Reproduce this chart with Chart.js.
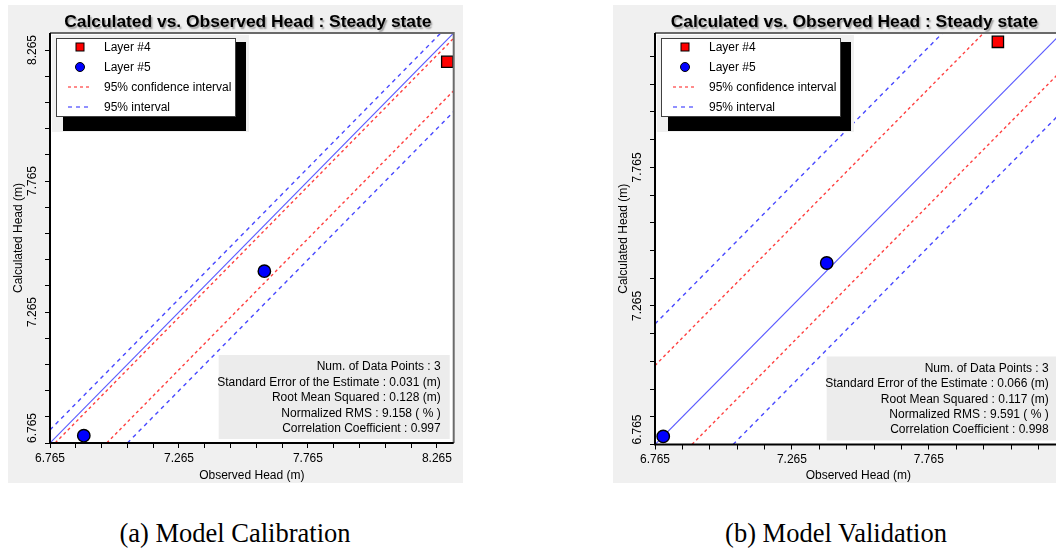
<!DOCTYPE html>
<html>
<head>
<meta charset="utf-8">
<title>Calculated vs. Observed Head</title>
<script src="https://cdn.jsdelivr.net/npm/chart.js@4.4.1/dist/chart.umd.min.js"></script>
<style>
  html, body { margin: 0; padding: 0; background: #fff; }
  body { position: relative; width: 1056px; height: 552px; overflow: hidden; }
  .panel { position: absolute; top: 5px; height: 478px; background: #f0f0f0; }
  #panelA { left: 8px; width: 455px; }
  #panelB { left: 613px; width: 458px; }
  .caption {
    position: absolute; top: 518px; width: 300px; text-align: center;
    font-family: "Liberation Serif", "Times New Roman", serif; font-size: 26.5px; color: #000;
  }
</style>
</head>
<body>
<div class="panel" id="panelA"><canvas id="chartA" width="455" height="478"></canvas></div>
<div class="panel" id="panelB"><canvas id="chartB" width="458" height="478"></canvas></div>
<div class="caption" style="left:85px;">(a) Model Calibration</div>
<div class="caption" style="left:686px;">(b) Model Validation</div>

<script>
// ── Axis data ──────────────────────────────────────────────────────
const AXIS_MIN = 6.765;
const CAL_AXIS_MAX = 8.33;
const VAL_AXIS_MAX = 8.25;
const MAJOR_TICKS = [6.765, 7.265, 7.765, 8.265];
const MINOR_STEP = 0.1;

// ── (a) Calibration ────────────────────────────────────────────────
const calLayer4 = [{ x: 8.305, y: 8.22 }];
const calLayer5 = [{ x: 7.596, y: 7.421 }, { x: 6.896, y: 6.793 }];
const calOneToOne = [{ x: 6.765, y: 6.765 }, { x: 8.33, y: 8.33 }];
const calConfUpper = [{ x: 6.785, y: 6.765 }, { x: 8.33, y: 8.31 }];
const calConfLower = [{ x: 6.985, y: 6.765 }, { x: 8.33, y: 8.11 }];
const calPredUpper = [{ x: 6.765, y: 6.815 }, { x: 8.28, y: 8.33 }];
const calPredLower = [{ x: 7.065, y: 6.765 }, { x: 8.33, y: 8.03 }];
const calStats = [
  'Num. of Data Points : 3',
  'Standard Error of the Estimate : 0.031 (m)',
  'Root Mean Squared : 0.128 (m)',
  'Normalized RMS : 9.158 ( % )',
  'Correlation Coefficient : 0.997'
];

// ── (b) Validation ─────────────────────────────────────────────────
const valLayer4 = [{ x: 8.017, y: 8.218 }];
const valLayer5 = [{ x: 7.392, y: 7.42 }, { x: 6.795, y: 6.794 }];
const valOneToOne = [{ x: 6.765, y: 6.765 }, { x: 8.25, y: 8.25 }];
const valConfUpper = [{ x: 6.765, y: 7.05 }, { x: 7.965, y: 8.25 }];
const valConfLower = [{ x: 6.9, y: 6.765 }, { x: 8.25, y: 8.115 }];
const valPredUpper = [{ x: 6.765, y: 7.2 }, { x: 7.815, y: 8.25 }];
const valPredLower = [{ x: 7.05, y: 6.765 }, { x: 8.25, y: 7.965 }];
const valStats = [
  'Num. of Data Points : 3',
  'Standard Error of the Estimate : 0.066 (m)',
  'Root Mean Squared : 0.117 (m)',
  'Normalized RMS : 9.591 ( % )',
  'Correlation Coefficient : 0.998'
];

const TITLE = 'Calculated vs. Observed Head : Steady state';
const FONT = '"Liberation Sans", Arial, sans-serif';
const RED = '#ff0000', BLUE = '#0000ff';
const RED_DASH = '#ff4040', BLUE_DASH = '#4848ff', LINE_1TO1 = '#5a5aff';

// ── Helpers ────────────────────────────────────────────────────────
function minorTicks(max) {
  const out = [];
  for (let i = 0; AXIS_MIN + i * MINOR_STEP <= max + 1e-9; i++) {
    out.push({ value: +(AXIS_MIN + i * MINOR_STEP).toFixed(3) });
  }
  return out;
}
function isMajor(v) { return MAJOR_TICKS.includes(+(+v).toFixed(3)); }

function lineSet(label, data, color, dash, legend) {
  return {
    label, data, showLine: true, borderColor: color, borderWidth: dash ? 1.4 : 1.1,
    borderDash: dash || [], pointRadius: 0, fill: false, inLegend: legend, kind: 'line'
  };
}

// Chart panel decorations: white plot area, title, frame, rotated y labels, legend, stats box
const panelDecor = {
  id: 'panelDecor',
  beforeDraw(chart) {
    const ctx = chart.ctx, a = chart.chartArea;
    ctx.save();
    ctx.fillStyle = '#fff';
    ctx.fillRect(a.left, a.top, a.right - a.left, a.bottom - a.top);
    ctx.restore();
  },
  afterDraw(chart) {
    const ctx = chart.ctx, a = chart.chartArea;
    const y = chart.scales.y;
    const stats = chart.options.plugins.panelDecor.stats;

    // title with soft shadow
    ctx.save();
    ctx.font = 'bold 17.4px ' + FONT;
    ctx.textAlign = 'center';
    ctx.textBaseline = 'alphabetic';
    ctx.shadowColor = 'rgba(0,0,0,0.35)';
    ctx.shadowOffsetX = 1.5; ctx.shadowOffsetY = 1.5; ctx.shadowBlur = 1.5;
    ctx.fillStyle = '#000';
    ctx.fillText(TITLE, (a.left + a.right) / 2 - 4, 22);
    ctx.restore();

    // frame
    ctx.save();
    ctx.lineWidth = 2;
    ctx.strokeStyle = '#6a6a6a';
    ctx.beginPath();
    ctx.moveTo(a.left, a.top); ctx.lineTo(a.right, a.top); ctx.lineTo(a.right, a.bottom);
    ctx.stroke();
    ctx.strokeStyle = '#000';
    ctx.beginPath();
    ctx.moveTo(a.left, a.top); ctx.lineTo(a.left, a.bottom); ctx.lineTo(a.right, a.bottom);
    ctx.stroke();
    ctx.restore();

    // rotated y tick labels
    ctx.save();
    ctx.font = '12px ' + FONT;
    ctx.fillStyle = '#000';
    ctx.textAlign = 'center';
    ctx.textBaseline = 'middle';
    MAJOR_TICKS.forEach(v => {
      const py = y.getPixelForValue(v);
      if (py < a.top - 1 || py > a.bottom + 1) return;
      const txt = v.toFixed(3);
      const w = ctx.measureText(txt).width;
      const cy = Math.min(py, a.bottom - w / 2);
      ctx.save();
      ctx.translate(25, cy);
      ctx.rotate(-Math.PI / 2);
      ctx.fillText(txt, 0, 0);
      ctx.restore();
    });
    ctx.restore();

    // legend
    const lx = a.left + 6, ly = a.top + 5, lw = 180, lh = 79;
    ctx.save();
    ctx.fillStyle = '#f0f0f0';
    ctx.fillRect(lx - 4, ly - 3, lw + 17, lh + 18);
    ctx.fillStyle = '#000';
    ctx.fillRect(lx + 7, ly + 4, lw + 3, lh + 10);
    ctx.fillStyle = '#fff';
    ctx.fillRect(lx, ly, lw, lh);
    ctx.strokeStyle = '#404040';
    ctx.lineWidth = 1;
    ctx.strokeRect(lx + 0.5, ly + 0.5, lw - 1, lh - 1);
    const items = chart.data.datasets.filter(d => d.inLegend);
    ctx.font = '12px ' + FONT;
    ctx.textBaseline = 'middle';
    ctx.textAlign = 'left';
    items.forEach((d, i) => {
      const ry = ly + 10 + i * 20;
      const mx = lx + 24;
      if (d.kind === 'rect') {
        ctx.fillStyle = d.backgroundColor;
        ctx.fillRect(mx - 4, ry - 5, 8, 8);
        ctx.strokeStyle = '#000';
        ctx.strokeRect(mx - 4, ry - 5, 8, 8);
      } else if (d.kind === 'circle') {
        ctx.beginPath();
        ctx.arc(mx, ry - 1, 4.5, 0, Math.PI * 2);
        ctx.fillStyle = d.backgroundColor;
        ctx.fill();
        ctx.strokeStyle = '#000';
        ctx.stroke();
      } else {
        ctx.save();
        ctx.strokeStyle = d.borderColor;
        ctx.lineWidth = 1.2;
        ctx.setLineDash(d.borderDash);
        ctx.beginPath();
        ctx.moveTo(mx - 12, ry - 1); ctx.lineTo(mx + 12, ry - 1);
        ctx.stroke();
        ctx.restore();
      }
      ctx.fillStyle = '#000';
      ctx.fillText(d.label, lx + 48, ry);
    });
    ctx.restore();

    // stats box
    const bw = 231, bh = 84;
    const bx = a.right - 4 - bw, by = a.bottom - 4 - bh;
    ctx.save();
    ctx.fillStyle = '#ececec';
    ctx.fillRect(bx, by, bw, bh);
    ctx.font = '12px ' + FONT;
    ctx.fillStyle = '#000';
    ctx.textAlign = 'right';
    ctx.textBaseline = 'middle';
    stats.forEach((s, i) => {
      ctx.fillText(s, bx + bw - 9, by + 12 + i * 15.4);
    });
    ctx.restore();
  }
};

function buildChart(canvasId, max, sets, stats, padRight, xHeight) {
  const ctx = document.getElementById(canvasId).getContext('2d');
  const axisCommon = {
    type: 'linear', min: AXIS_MIN, max,
    afterBuildTicks: s => { s.ticks = minorTicks(max); },
    grid: { drawOnChartArea: false, drawTicks: true, tickLength: 5, color: '#000', tickWidth: 1 },
    border: { display: false }
  };
  return new Chart(ctx, {
    type: 'scatter',
    data: {
      datasets: [
        { label: 'Layer #4', data: sets.layer4, pointStyle: 'rect', pointRadius: 8,
          backgroundColor: RED, borderColor: '#000', borderWidth: 1.3, inLegend: true, kind: 'rect' },
        { label: 'Layer #5', data: sets.layer5, pointStyle: 'circle', pointRadius: 6.2,
          backgroundColor: BLUE, borderColor: '#000', borderWidth: 1.4, inLegend: true, kind: 'circle' },
        lineSet('95% confidence interval', sets.confUpper, RED_DASH, [3, 3], true),
        lineSet('95% interval', sets.predUpper, BLUE_DASH, [4, 4], true),
        lineSet('95% confidence interval', sets.confLower, RED_DASH, [3, 3], false),
        lineSet('95% interval', sets.predLower, BLUE_DASH, [4, 4], false),
        lineSet('1:1', sets.oneToOne, LINE_1TO1, null, false)
      ]
    },
    options: {
      responsive: false,
      animation: false,
      events: [],
      layout: { padding: { top: 28, right: padRight, bottom: 0, left: 0 } },
      plugins: {
        legend: { display: false },
        tooltip: { enabled: false },
        title: { display: false },
        panelDecor: { stats }
      },
      scales: {
        x: {
          ...axisCommon,
          afterFit: s => { s.height = xHeight; },
          ticks: {
            autoSkip: false, maxRotation: 0, minRotation: 0, padding: 3,
            color: '#000', font: { family: FONT, size: 12 },
            callback: v => isMajor(v) ? (+v).toFixed(3) : ''
          },
          title: { display: true, text: 'Observed Head (m)', color: '#000',
                   font: { family: FONT, size: 12 }, padding: { top: 0, bottom: 0 } }
        },
        y: {
          ...axisCommon,
          afterFit: s => { s.width = 42; },
          ticks: { autoSkip: false, callback: () => '', padding: 0 },
          title: { display: true, text: 'Calculated Head (m)', color: '#000',
                   font: { family: FONT, size: 12 }, padding: { top: 3, bottom: 0 } }
        }
      }
    },
    plugins: [panelDecor]
  });
}

buildChart('chartA', CAL_AXIS_MAX, {
  layer4: calLayer4, layer5: calLayer5, oneToOne: calOneToOne,
  confUpper: calConfUpper, confLower: calConfLower,
  predUpper: calPredUpper, predLower: calPredLower
}, calStats, 3, 40);

buildChart('chartB', VAL_AXIS_MAX, {
  layer4: valLayer4, layer5: valLayer5, oneToOne: valOneToOne,
  confUpper: valConfUpper, confLower: valConfLower,
  predUpper: valPredUpper, predLower: valPredLower
}, valStats, 4, 38.5);
</script>
</body>
</html>
